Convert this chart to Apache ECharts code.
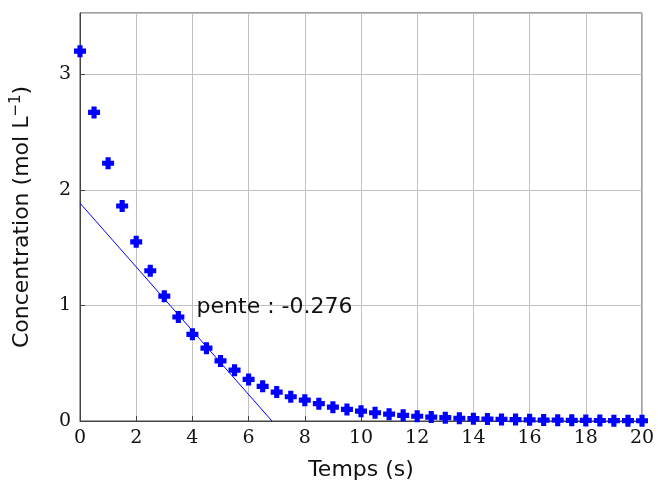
<!DOCTYPE html>
<html>
<head>
<meta charset="utf-8">
<script src="https://cdn.jsdelivr.net/npm/echarts@6/dist/echarts.min.js"></script>
<style>
  html, body { margin: 0; padding: 0; background: #fff; }
  #chart { width: 658px; height: 493px; }
</style>
</head>
<body>
<div id="chart"></div>
<script>
// temps (s) et concentration (mol/L)
var temps = [0, 0.5, 1, 1.5, 2, 2.5, 3, 3.5, 4, 4.5, 5, 5.5, 6, 6.5, 7, 7.5, 8, 8.5, 9, 9.5,
  10, 10.5, 11, 11.5, 12, 12.5, 13, 13.5, 14, 14.5, 15, 15.5, 16, 16.5, 17, 17.5, 18, 18.5, 19, 19.5, 20];
var concentration = [3.20, 2.67, 2.23, 1.86, 1.55, 1.30, 1.08, 0.90, 0.75, 0.63, 0.52, 0.44, 0.36, 0.30,
  0.25, 0.21, 0.18, 0.15, 0.12, 0.10, 0.085, 0.071, 0.059, 0.049, 0.041, 0.034, 0.029, 0.024, 0.020,
  0.017, 0.014, 0.012, 0.010, 0.008, 0.007, 0.006, 0.005, 0.004, 0.003, 0.003, 0.002];
// tangente a l'origine
var tangenteX = [0, 6.83];
var tangenteY = [1.885, 0];
var penteTexte = 'pente : -0.276';
var penteX = 4.15;
var penteY = 0.985;
var xTicks = [0, 2, 4, 6, 8, 10, 12, 14, 16, 18, 20];
var yTicks = [0, 1, 2, 3];

var points = temps.map(function (t, i) { return [t, concentration[i]]; });
var tangente = tangenteX.map(function (t, i) { return [t, tangenteY[i]]; });

var serif = 'DejaVu Serif';
var sans = 'DejaVu Sans';
var plus = 'path://M4,0H10V4H14V10H10V14H4V10H0V4H4Z';

var chart = echarts.init(document.getElementById('chart'));
var option = {
  animation: false,
  grid: { left: 80, right: 16, top: 13, bottom: 72, show: true, borderColor: '#444', borderWidth: 1 },
  xAxis: {
    type: 'value', min: 0, max: 20, interval: 2,
    name: 'Temps (s)', nameLocation: 'middle', nameGap: 38,
    nameTextStyle: { fontFamily: sans, fontSize: 22, color: '#111' },
    axisLine: { show: true, onZero: false, lineStyle: { color: '#444' } },
    axisTick: { show: true, inside: true, length: 5, lineStyle: { color: '#444' } },
    axisLabel: { fontFamily: serif, fontSize: 19, color: '#111', margin: 8,
      formatter: function (v) { return xTicks.indexOf(v) >= 0 ? v : ''; } },
    splitLine: { show: true, lineStyle: { color: '#c0c0c0', width: 1 } }
  },
  yAxis: {
    type: 'value', min: 0, max: 3.53, interval: 1,
    name: 'Concentration (mol L{sup|\u22121})', nameLocation: 'middle', nameGap: 44,
    nameTextStyle: { fontFamily: sans, fontSize: 22, color: '#111',
      rich: { sup: { fontFamily: sans, fontSize: 15, color: '#111', verticalAlign: 'bottom', padding: [0, 0, 12, 0] } } },
    axisLine: { show: true, lineStyle: { color: '#444' } },
    axisTick: { show: true, inside: true, length: 5, lineStyle: { color: '#444' } },
    axisLabel: { fontFamily: serif, fontSize: 19, color: '#111', margin: 9, showMaxLabel: false,
      formatter: function (v) { return yTicks.indexOf(v) >= 0 ? v : ''; } },
    splitLine: { show: true, lineStyle: { color: '#c0c0c0', width: 1 } }
  },
  series: [
    {
      type: 'line', data: tangente, symbol: 'none', clip: true,
      lineStyle: { color: '#0000ff', width: 1 }, z: 2
    },
    {
      type: 'scatter', data: points, symbol: plus, symbolSize: 12,
      itemStyle: { color: '#0000ff', opacity: 1 }, z: 3
    },
    {
      type: 'scatter', data: [[penteX, penteY]], symbolSize: 0, silent: true,
      itemStyle: { opacity: 1 },
      label: { show: true, position: 'right', distance: 0, formatter: penteTexte,
        fontFamily: sans, fontSize: 22, color: '#111' }, z: 4
    }
  ]
};
chart.setOption(option);
</script>
</body>
</html>
